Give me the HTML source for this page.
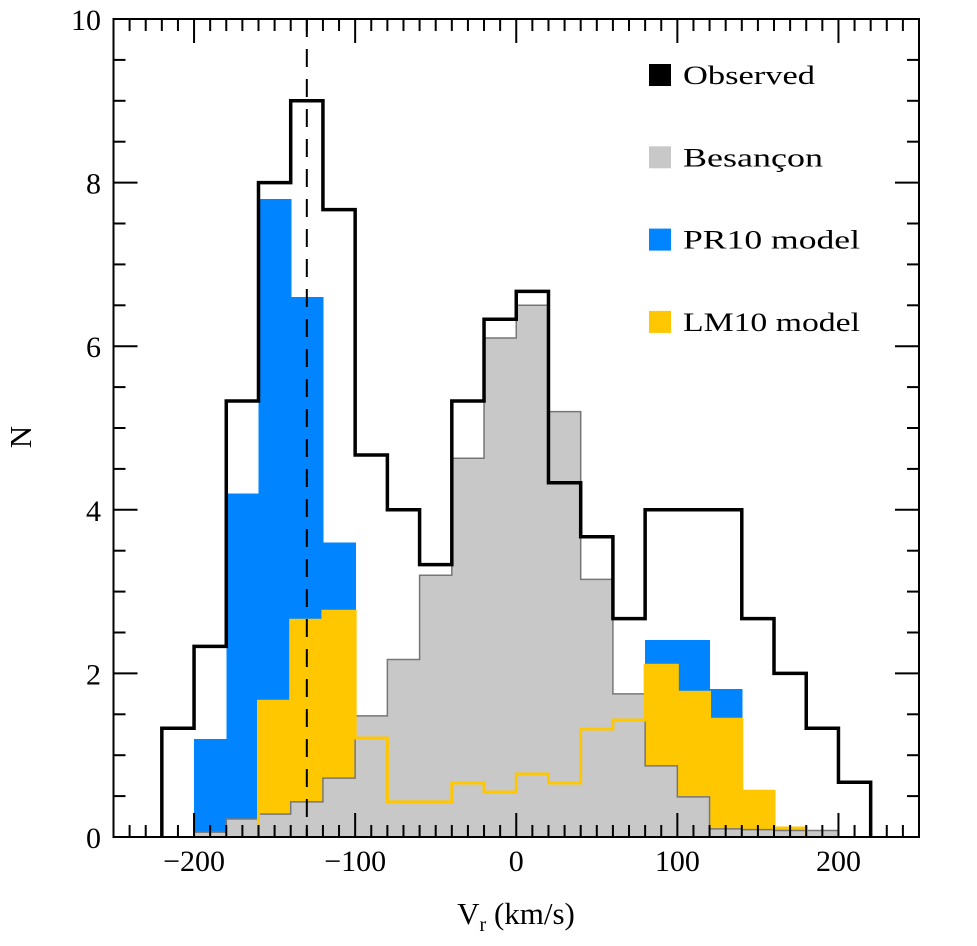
<!DOCTYPE html>
<html><head><meta charset="utf-8"><style>
html,body{margin:0;padding:0;background:#fff;}
svg{display:block;font-family:"Liberation Serif",serif;}
</style></head><body>
<svg id="chart" width="977" height="946" viewBox="0 0 977 946" xmlns="http://www.w3.org/2000/svg">
<g id="bars" shape-rendering="crispEdges"></g><g id="lines"></g><g id="axes"></g><g id="legend"></g>
</svg>
<script>
const binEdgesStart = -220;
const binWidth = 20;
const observed = [1.33,2.33,5.33,8,9,7.67,4.67,4,3.33,5.33,6.33,6.67,4.33,3.67,2.67,4,4,4,2.67,2,1.33,0.67];
const besancon = [0,0.06,0.22,0.28,0.43,0.72,1.48,2.17,3.2,4.63,6.1,6.5,5.2,3.15,1.75,0.87,0.49,0.1,0.09,0.08,0.08,0];
const pr10 = [0,1.2,4.2,7.8,6.6,3.6,0,0,0,0,0,0,0,0,0.6,2.41,2.41,1.81,0.54,0,0,0];
const lm10 = [0,0,0,1.66,2.65,2.76,1.21,0.43,0.43,0.66,0.55,0.77,0.66,1.32,1.43,2.1,1.77,1.44,0.56,0.11,0,0];
const xTicks = [-200,-100,0,100,200];
const yTicks = [0,2,4,6,8,10];
const dashedX = -130;

const L=113.5,R=919,T=19,B=837;
const X=v=>L+(v+250)*(R-L)/500;
const Y=v=>B-v*(B-T)/10;
const NS="http://www.w3.org/2000/svg";
function mk(tag,attrs,parent){const e=document.createElementNS(NS,tag);for(const k in attrs)e.setAttribute(k,attrs[k]);parent.appendChild(e);return e;}
const bars=document.getElementById('bars'),lines=document.getElementById('lines'),axes=document.getElementById('axes'),leg=document.getElementById('legend');

function fillBars(arr,color,name){
  arr.forEach((v,i)=>{ if(v<=0)return;
    const x0=binEdgesStart+i*binWidth;
    const r=mk('rect',{x:X(x0),y:Y(v),width:X(x0+binWidth)-X(x0)+0.6,height:B-Y(v),fill:color},bars);
    
    
  });
}
function stepPath(arr){
  let first=arr.findIndex(v=>v>0), last=arr.length-1-[...arr].reverse().findIndex(v=>v>0);
  let d='M'+X(binEdgesStart+first*binWidth)+' '+Y(0);
  for(let i=first;i<=last;i++){const v=arr[i];const x0=binEdgesStart+i*binWidth;d+=' L'+X(x0)+' '+Y(v)+' L'+X(x0+binWidth)+' '+Y(v);}
  d+=' L'+X(binEdgesStart+(last+1)*binWidth)+' '+Y(0);
  return d;
}
fillBars(pr10,'#0084ff','pr10');
fillBars(lm10,'#ffc700','lm10');
fillBars(besancon,'#c8c8c8','besancon');
let p;
p=mk('path',{d:stepPath(besancon),fill:'none',stroke:'#777','stroke-width':1.5},lines);


p=mk('path',{d:stepPath(lm10),fill:'none',stroke:'#ffc700','stroke-width':3},lines);


p=mk('path',{d:stepPath(observed),fill:'none',stroke:'#000','stroke-width':3.5},lines);


p=mk('line',{x1:X(dashedX),x2:X(dashedX),y1:T,y2:B,stroke:'#000','stroke-width':2,'stroke-dasharray':'18,12'},lines);



p=mk('rect',{x:L,y:T,width:R-L,height:B-T,fill:'none',stroke:'#000','stroke-width':2},axes);


for(let v=-250;v<=250;v+=10){
  const maj=v%100===0, len=maj?24:12;
  mk('line',{x1:X(v),x2:X(v),y1:B,y2:B-len,stroke:'#000','stroke-width':2},axes);
  mk('line',{x1:X(v),x2:X(v),y1:T,y2:T+len,stroke:'#000','stroke-width':2},axes);
}
for(let v=0;v<=10;v+=0.5){
  const maj=Math.abs(v%2)<1e-6, len=maj?24:12;
  mk('line',{x1:L,x2:L+len,y1:Y(v),y2:Y(v),stroke:'#000','stroke-width':2},axes);
  mk('line',{x1:R,x2:R-len,y1:Y(v),y2:Y(v),stroke:'#000','stroke-width':2},axes);
}
xTicks.forEach(v=>{
  const t=mk('text',{x:X(v),y:871,'font-size':30,'text-anchor':'middle'},axes);
  t.textContent=v<0?'\u2212'+(-v):String(v);
  
  
});
yTicks.forEach(v=>{
  const t=mk('text',{x:101,y:Y(v)+11,'font-size':30,'text-anchor':'end'},axes);
  t.textContent=String(v);
  
  
});
let t=mk('text',{x:516,y:924,'font-size':31,'text-anchor':'middle'},axes);
t.innerHTML='V<tspan font-size="20" dy="7">r</tspan><tspan dy="-7"> (km/s)</tspan>';


t=mk('text',{x:31,y:437,'font-size':31,'text-anchor':'middle',transform:'rotate(-90 31 437)'},axes);
t.textContent='N';



const legNames=['Observed','Besançon','PR10 model','LM10 model'];
const legColors=['#000','#c8c8c8','#0084ff','#ffc700'];
const legW=[132,140,177,177];
legNames.forEach((n,i)=>{
  const cy=75+i*82.3;
  const g=mk('g',{},leg);
  
  
  mk('rect',{x:649,y:cy-11,width:22,height:22,fill:legColors[i]},g);
  const tx=mk('text',{x:683,y:cy+9,'font-size':26,textLength:legW[i],lengthAdjust:'spacingAndGlyphs'},g);
  tx.textContent=n;
});
</script>
</body></html>
